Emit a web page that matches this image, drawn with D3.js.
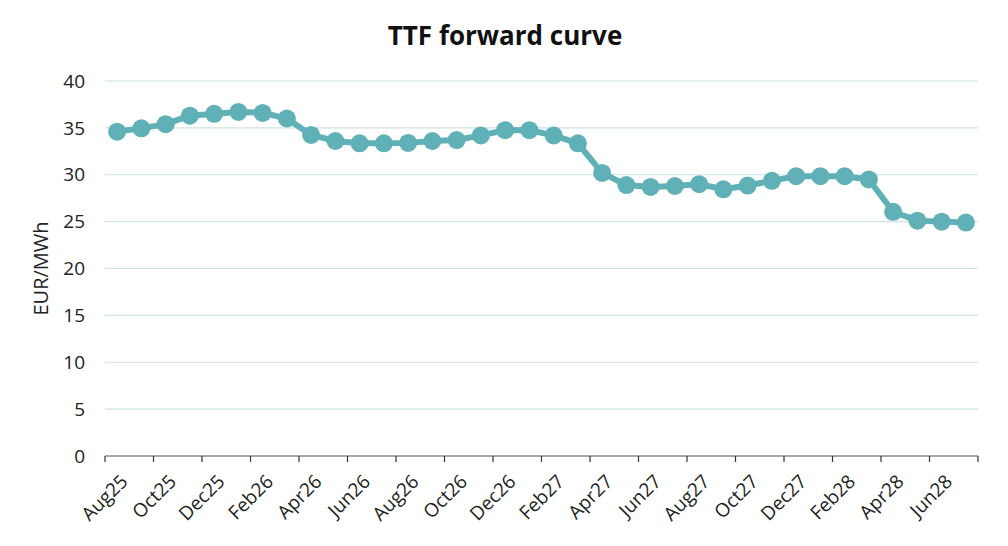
<!DOCTYPE html>
<html><head><meta charset="utf-8">
<script src="https://cdn.jsdelivr.net/npm/d3@7"></script>
<style>body{margin:0;background:#fff;} text{font-family:"Open Sans",sans-serif;}</style>
</head><body><svg id="c" width="1008" height="546"></svg>
<script>
const months = ["Aug25","Sep25","Oct25","Nov25","Dec25","Jan26","Feb26","Mar26","Apr26","May26","Jun26","Jul26","Aug26","Sep26","Oct26","Nov26","Dec26","Jan27","Feb27","Mar27","Apr27","May27","Jun27","Jul27","Aug27","Sep27","Oct27","Nov27","Dec27","Jan28","Feb28","Mar28","Apr28","May28","Jun28","Jul28"];
const prices = [34.6,34.95,35.4,36.3,36.5,36.7,36.6,36.0,34.25,33.6,33.35,33.35,33.4,33.6,33.7,34.2,34.75,34.75,34.2,33.35,30.2,28.9,28.7,28.8,29.0,28.45,28.85,29.35,29.85,29.85,29.85,29.5,26.05,25.1,25.0,24.9];
const yTicks = [0,5,10,15,20,25,30,35,40];
const title = "TTF forward curve";
const yLabel = "EUR/MWh";

const svg = d3.select("#c");
const L=105, R=978, T=81, B=456;
const x = d3.scaleBand().domain(months).range([L,R]).padding(0);
const y = d3.scaleLinear().domain([0,40]).range([B,T]);
const col = "#5fb1b7";

svg.append("text").attr("x",505).attr("y",45).attr("text-anchor","middle")
  .attr("font-size",26).attr("font-weight",700).attr("fill","#111").text(title);

// gridlines
svg.append("g").selectAll("line").data(yTicks.filter(d=>d>0)).join("line")
  .attr("x1",L).attr("x2",R).attr("y1",d=>y(d)).attr("y2",d=>y(d))
  .attr("stroke","#cfe2e4").attr("stroke-width",1.2);

// y tick labels
svg.append("g").selectAll("text").data(yTicks).join("text")
  .attr("x",85).attr("y",d=>y(d)).attr("dy","0.35em").attr("text-anchor","end")
  .attr("font-size",19).attr("fill","#222").text(d=>d);

svg.append("text").attr("transform","translate(48,"+((T+B)/2)+") rotate(-90)")
  .attr("text-anchor","middle").attr("font-size",20).attr("fill","#222").text(yLabel);

// x axis baseline and ticks
const gx = svg.append("g");
gx.append("line").attr("x1",L).attr("x2",R).attr("y1",B).attr("y2",B).attr("stroke","#555").attr("stroke-width",1.2);
const tickIdx = months.map((m,i)=>i).filter(i=>i%2===0);
gx.selectAll("line.t").data(tickIdx.concat([months.length])).join("line").attr("class","t")
  .attr("x1",i=> i<months.length ? x(months[i]) : R).attr("x2",i=> i<months.length ? x(months[i]) : R)
  .attr("y1",B).attr("y2",B+6).attr("stroke","#333").attr("stroke-width",1.2);
gx.selectAll("text").data(tickIdx).join("text")
  .attr("transform",i=>"translate("+(x(months[i])+x.bandwidth()/2+7)+","+(B+22)+") rotate(-45)")
  .attr("text-anchor","end").attr("dy","0.35em").attr("font-size",19).attr("fill","#222")
  .text(i=>months[i]);

// line
const cx = d=>x(d)+x.bandwidth()/2;
svg.append("path").datum(months)
  .attr("d",d3.line().x(cx).y((d,i)=>y(prices[i])))
  .attr("fill","none").attr("stroke",col).attr("stroke-width",6).attr("stroke-linejoin","round");
svg.append("g").selectAll("circle").data(months).join("circle")
  .attr("cx",cx).attr("cy",(d,i)=>y(prices[i])).attr("r",9).attr("fill",col);
</script></body></html>
